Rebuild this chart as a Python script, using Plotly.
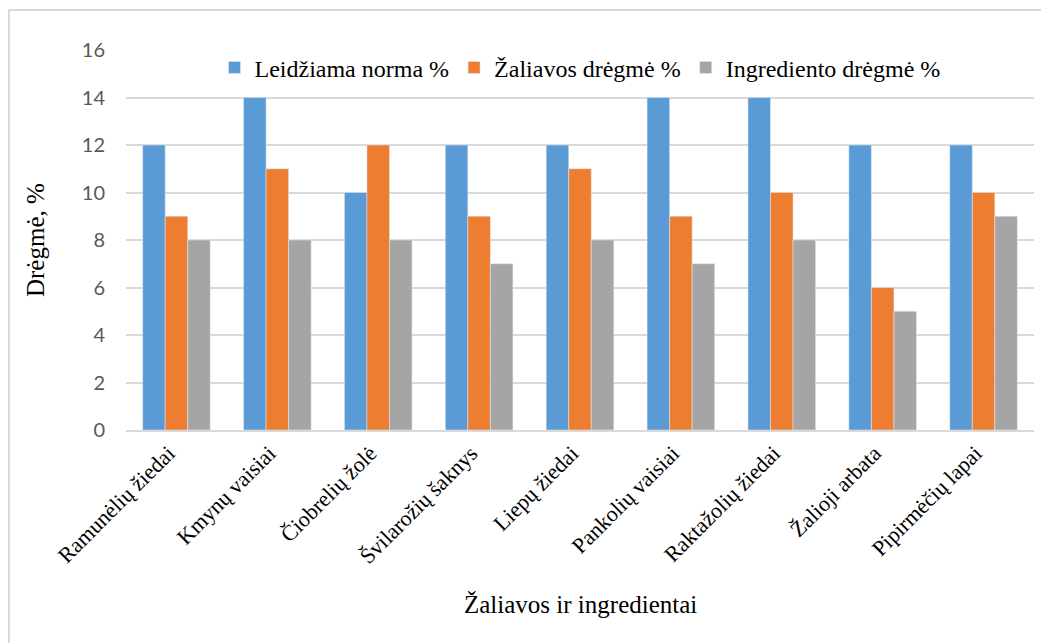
import plotly.graph_objects as go

categories = ["Ramunėlių žiedai", "Kmynų vaisiai", "Čiobrelių žolė", "Švilarožių šaknys",
              "Liepų žiedai", "Pankolių vaisiai", "Raktažolių žiedai", "Žalioji arbata",
              "Pipirmėčių lapai"]
leidziama = [12, 14, 10, 12, 12, 14, 14, 12, 12]
zaliavos = [9, 11, 12, 9, 11, 9, 10, 6, 10]
ingrediento = [8, 8, 8, 7, 8, 7, 8, 5, 9]
y_ticks = [0, 2, 4, 6, 8, 10, 12, 14, 16]

serif = "Times New Roman"
serif2 = "Liberation Serif"

fig = go.Figure()
fig.add_bar(x=categories, y=leidziama, name="Leidžiama norma %", marker_color="#5B9BD5")
fig.add_bar(x=categories, y=zaliavos, name="Žaliavos drėgmė %", marker_color="#ED7D31")
fig.add_bar(x=categories, y=ingrediento, name="Ingrediento drėgmė %", marker_color="#A5A5A5")

fig.update_layout(
    width=1049, height=643,
    margin=dict(l=118, r=23, t=42, b=221),
    paper_bgcolor="white", plot_bgcolor="white",
    barmode="group", bargap=0.33, bargroupgap=0,
    font=dict(family=serif, color="black"),
    showlegend=True,
    legend=dict(orientation="h", x=0.5, xanchor="center", y=0.953, yanchor="middle",
                font=dict(family=serif, size=24, color="black"),
                bgcolor="rgba(0,0,0,0)", itemwidth=30, traceorder="normal"),
    xaxis=dict(tickangle=-45, tickfont=dict(family=serif, size=22, color="black"),
               showline=True, linecolor="#D9D9D9", linewidth=1.5, ticks="",
               ticklabelshift=-8),
    yaxis=dict(range=[0, 16], tickvals=y_ticks, showgrid=True, gridcolor="#D9D9D9", gridwidth=1.5,
               zeroline=False, tickfont=dict(family="Lato", size=20, color="#595959"),
               ticklabelstandoff=20),
    annotations=[
        dict(text="Žaliavos ir ingredientai", xref="paper", yref="paper", x=0.5, y=-0.4605,
             xanchor="center", yanchor="middle", showarrow=False,
             font=dict(family=serif2, size=25, color="black")),
        dict(text="Drėgmė, %", xref="paper", yref="paper", x=-0.1002, y=0.5,
             xanchor="center", yanchor="middle", textangle=-90, showarrow=False,
             font=dict(family=serif2, size=25, color="black")),
    ],
    shapes=[dict(type="rect", xref="paper", yref="paper", x0=-0.1289, x1=1.2, y0=-1.0, y1=1.105,
                 line=dict(color="#D9D9D9", width=2), fillcolor="rgba(0,0,0,0)", layer="below")],
)

fig.write_html("out.html")
